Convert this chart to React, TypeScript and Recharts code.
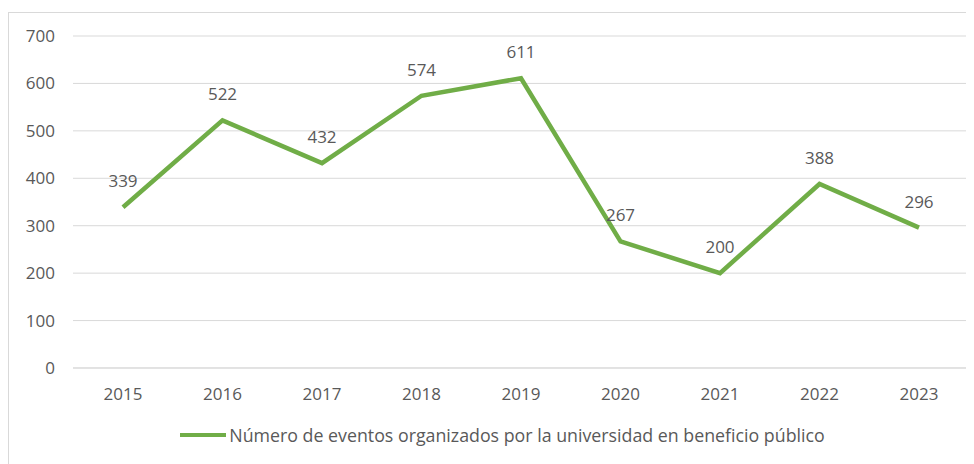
import React from "react";
import { LineChart, Line, XAxis, YAxis, CartesianGrid, Legend, LabelList } from "recharts";

const years = ["2015", "2016", "2017", "2018", "2019", "2020", "2021", "2022", "2023"];
const eventos = [339, 522, 432, 574, 611, 267, 200, 388, 296];
const yTicks = [0, 100, 200, 300, 400, 500, 600, 700];
const seriesName = "Número de eventos organizados por la universidad en beneficio público";

const data = years.map((y, i) => ({ year: y, eventos: eventos[i] }));

const FONT = "'Open Sans', sans-serif";
const TEXT = "#595959";
const GREEN = "#70AD47";
const FS = 17;

const renderLegend = () => (
  <div style={{ display: "flex", justifyContent: "center", alignItems: "center", paddingLeft: 26, paddingTop: 5, fontFamily: FONT, fontSize: 17.8, color: TEXT }}>
    <svg width={48} height={10} style={{ marginRight: 2 }}>
      <line x1={1} y1={5} x2={47} y2={5} stroke={GREEN} strokeWidth={4} />
    </svg>
    <span>{seriesName}</span>
  </div>
);

export default function App() {
  return (
    <div style={{ paddingTop: 4 }}>
      <div style={{ width: 966, height: 452, borderTop: "1px solid #d9d9d9", borderLeft: "1px solid #d9d9d9", boxSizing: "border-box", background: "#fff" }}>
        <LineChart width={965} height={451} data={data} margin={{ top: 23, right: 5, bottom: 0, left: 0 }}>
          <CartesianGrid vertical={false} stroke="#d9d9d9" />
          <XAxis
            dataKey="year"
            axisLine={{ stroke: "#d9d9d9" }}
            tickLine={false}
            padding={{ left: 50, right: 50 }}
            tick={{ fill: TEXT, fontFamily: FONT, fontSize: FS }}
            tickMargin={14}
            height={50}
          />
          <YAxis
            domain={[0, 700]}
            ticks={yTicks}
            axisLine={false}
            tickLine={false}
            width={64}
            tick={{ fill: TEXT, fontFamily: FONT, fontSize: FS }}
            tickMargin={12}
          />
          <Legend verticalAlign="bottom" height={46} content={renderLegend} />
          <Line
            type="linear"
            dataKey="eventos"
            name={seriesName}
            stroke={GREEN}
            strokeWidth={4.5}
            dot={false}
            isAnimationActive={false}
          >
            <LabelList dataKey="eventos" position="top" offset={20} fill={TEXT} fontFamily={FONT} fontSize={FS} />
          </Line>
        </LineChart>
      </div>
    </div>
  );
}
